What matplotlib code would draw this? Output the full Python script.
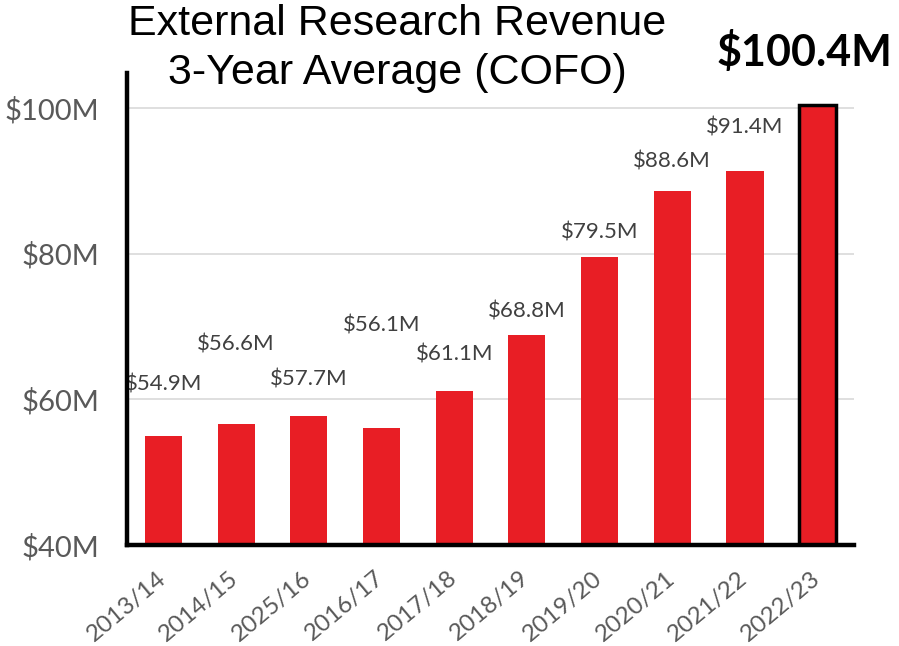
import numpy as np
import matplotlib.pyplot as plt
import matplotlib.transforms as mtransforms

years = ["2013/14", "2014/15", "2025/16", "2016/17", "2017/18",
         "2018/19", "2019/20", "2020/21", "2021/22", "2022/23"]
revenue = [54.9, 56.6, 57.7, 56.1, 61.1, 68.8, 79.5, 88.6, 91.4, 100.4]
value_labels = ["$54.9M", "$56.6M", "$57.7M", "$56.1M", "$61.1M",
                "$68.8M", "$79.5M", "$88.6M", "$91.4M", "$100.4M"]
y_ticks = [40, 60, 80, 100]
y_tick_labels = ["$40M", "$60M", "$80M", "$100M"]

# how far above each bar its label sits (data units)
label_lift = [7.1, 10.9, 5.0, 14.0, 5.0, 3.3, 3.4, 4.1, 5.9, 7.3]

red = "#e81e25"
gray = "#595959"

fig = plt.figure(figsize=(8.99, 6.46), dpi=100)
ax = fig.add_axes([0.1413, 0.1563, 0.8087, 0.7307])

x = np.arange(len(years))
ax.bar(x[:-1], revenue[:-1], width=0.51, color=red, zorder=3)
ax.bar(x[-1], revenue[-1], width=0.51, color=red, edgecolor="black",
       linewidth=2.5, zorder=3)

ax.set_xlim(-0.5, len(years) - 0.5)
ax.set_ylim(40, 104.8)
ax.set_yticks(y_ticks)
ax.set_yticklabels(y_tick_labels, fontsize=21, color=gray, family="Lato")
ax.set_xticks(x)
ax.set_xticklabels(years, rotation=40, ha="right", va="top",
                   rotation_mode="anchor", fontsize=17.5, color=gray,
                   family="Lato")
ax.tick_params(length=0)
ax.tick_params(axis="y", pad=20)
ax.tick_params(axis="x", pad=16)

# nudge the slanted year labels a little to the left
shift = mtransforms.ScaledTranslation(-5 / 72, 0, fig.dpi_scale_trans)
for lbl in ax.get_xticklabels():
    lbl.set_transform(lbl.get_transform() + shift)

for v in y_ticks[1:]:
    ax.axhline(v, color="#d9d9d9", linewidth=1.2, zorder=1)

for s in ["top", "right"]:
    ax.spines[s].set_visible(False)
for s in ["left", "bottom"]:
    ax.spines[s].set_linewidth(3.2)
    ax.spines[s].set_color("black")
    ax.spines[s].set_zorder(4)

for i, (v, lab, lift) in enumerate(zip(revenue, value_labels, label_lift)):
    if i == len(revenue) - 1:
        ax.text(i - 0.18, v + lift, lab, ha="center", va="center", fontsize=31,
                fontweight="bold", color="black", family="Lato", clip_on=False)
    else:
        ax.text(i, v + lift, lab, ha="center", va="center", fontsize=16,
                color="#404040", family="Lato")

fig.text(0.442, 0.963, "External Research Revenue", ha="center", va="center",
         fontsize=31, family="Liberation Sans")
fig.text(0.442, 0.887, "3-Year Average (COFO)", ha="center", va="center",
         fontsize=31, family="Liberation Sans")

fig.savefig("out.png", dpi=100)
